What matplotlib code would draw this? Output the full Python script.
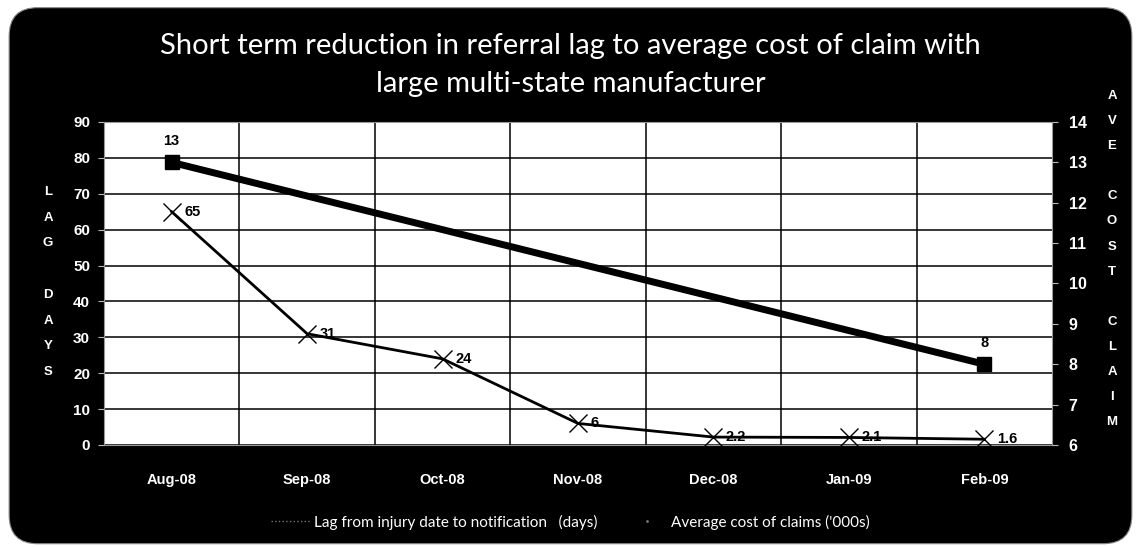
import numpy as np
import matplotlib.pyplot as plt
from matplotlib.patches import FancyBboxPatch
from matplotlib.lines import Line2D

months = ['Aug-08', 'Sep-08', 'Oct-08', 'Nov-08', 'Dec-08', 'Jan-09', 'Feb-09']
lag_days = [65, 31, 24, 6, 2.2, 2.1, 1.6]
lag_labels = ['65', '31', '24', '6', '2.2', '2.1', '1.6']
cost_months = ['Aug-08', 'Feb-09']
avg_cost = [13, 8]

plt.rcParams['font.family'] = ['Liberation Sans', 'DejaVu Sans']

fig = plt.figure(figsize=(11.41, 5.47), dpi=100)
fig.patch.set_facecolor('white')

# rounded black chart frame
frame = FancyBboxPatch((0.008, 0.006), 0.984, 0.98, boxstyle='round,pad=0,rounding_size=0.025',
                       transform=fig.transFigure, facecolor='black', edgecolor='#888888', lw=0.8,
                       mutation_aspect=1141/547, zorder=-5)
fig.patches.append(frame)

ax = fig.add_axes([0.0911, 0.1865, 0.831, 0.5905])
ax.set_facecolor('white')
x = np.arange(len(months))

ax.set_xlim(-0.5, len(months) - 0.5)
ax.set_ylim(0, 90)
ax.set_yticks(np.arange(0, 91, 10))
ax.set_xticks(x)
ax.set_xticklabels(months)
ax.set_xticks(x[:-1] + 0.5, minor=True)
ax.grid(axis='y', which='major', color='black', lw=1.1)
ax.grid(axis='x', which='minor', color='black', lw=1.1)
ax.set_axisbelow(True)
ax.tick_params(axis='x', which='both', length=0, pad=20, colors='white', labelsize=10.5)
ax.tick_params(axis='y', length=4, width=0.8, color='#bbbbbb', pad=6, labelcolor='white', labelsize=11)
for lab in ax.get_xticklabels() + ax.get_yticklabels():
    lab.set_fontweight('bold')
for s in ax.spines.values():
    s.set_color('#999999')
    s.set_linewidth(0.8)

ax.plot(x, lag_days, color='black', lw=2, marker='x', markersize=13, markeredgewidth=1.0, zorder=4)
for xi, v, t in zip(x, lag_days, lag_labels):
    ax.annotate(t, (xi, v), xytext=(9, 0), textcoords='offset points', ha='left', va='center',
                fontsize=10.5, fontweight='bold', color='black', zorder=5)

ax2 = ax.twinx()
ax2.set_ylim(6, 14)
ax2.set_yticks(np.arange(6, 15, 1))
ax2.tick_params(axis='y', length=4, width=0.8, color='#bbbbbb', pad=8, labelcolor='white', labelsize=11.5)
for lab in ax2.get_yticklabels():
    lab.set_fontweight('bold')
for s in ax2.spines.values():
    s.set_visible(False)
cx = [months.index(m) for m in cost_months]
ax2.plot(cx, avg_cost, color='black', lw=5, marker='s', markersize=10, zorder=4)
for xi, v in zip(cx, avg_cost):
    ax2.annotate(str(v), (xi, v), xytext=(0, 10), textcoords='offset points', ha='center', va='bottom',
                 fontsize=10.5, fontweight='bold', color='black')

fig.text(0.5, 1 - 65 / 547, 'Short term reduction in referral lag to average cost of claim with\nlarge multi-state manufacturer',
         ha='center', va='center', color='white', fontsize=21, family=['Lato', 'DejaVu Sans'],
         linespacing=1.55)

# stacked axis titles
for i, ch in enumerate('LAG DAYS'):
    fig.text(48 / 1141, 1 - (192 + i * 25.7) / 547, ch, ha='center', va='center', color='white',
             fontsize=9.5, fontweight='bold')
for i, ch in enumerate('AVE COST CLAIM'):
    fig.text(1112 / 1141, 1 - (96 + i * 25.1) / 547, ch, ha='center', va='center', color='white',
             fontsize=9.5, fontweight='bold')

handles = [Line2D([], [], color='#777777', lw=1, ls=':'),
           Line2D([], [], color='#777777', lw=0, marker='.', markersize=2)]
leg = fig.legend(handles, ['Lag from injury date to notification   (days)', "Average cost of claims ('000s)"],
                 loc='center', bbox_to_anchor=(0.5, 1 - 522 / 547), ncol=2, frameon=False,
                 handlelength=2.5, handletextpad=0.3, columnspacing=2.0,
                 prop={'family': ['Lato', 'DejaVu Sans'], 'size': 11})
for t in leg.get_texts():
    t.set_color('white')

fig.savefig('out.png', dpi=100, facecolor=fig.get_facecolor())
